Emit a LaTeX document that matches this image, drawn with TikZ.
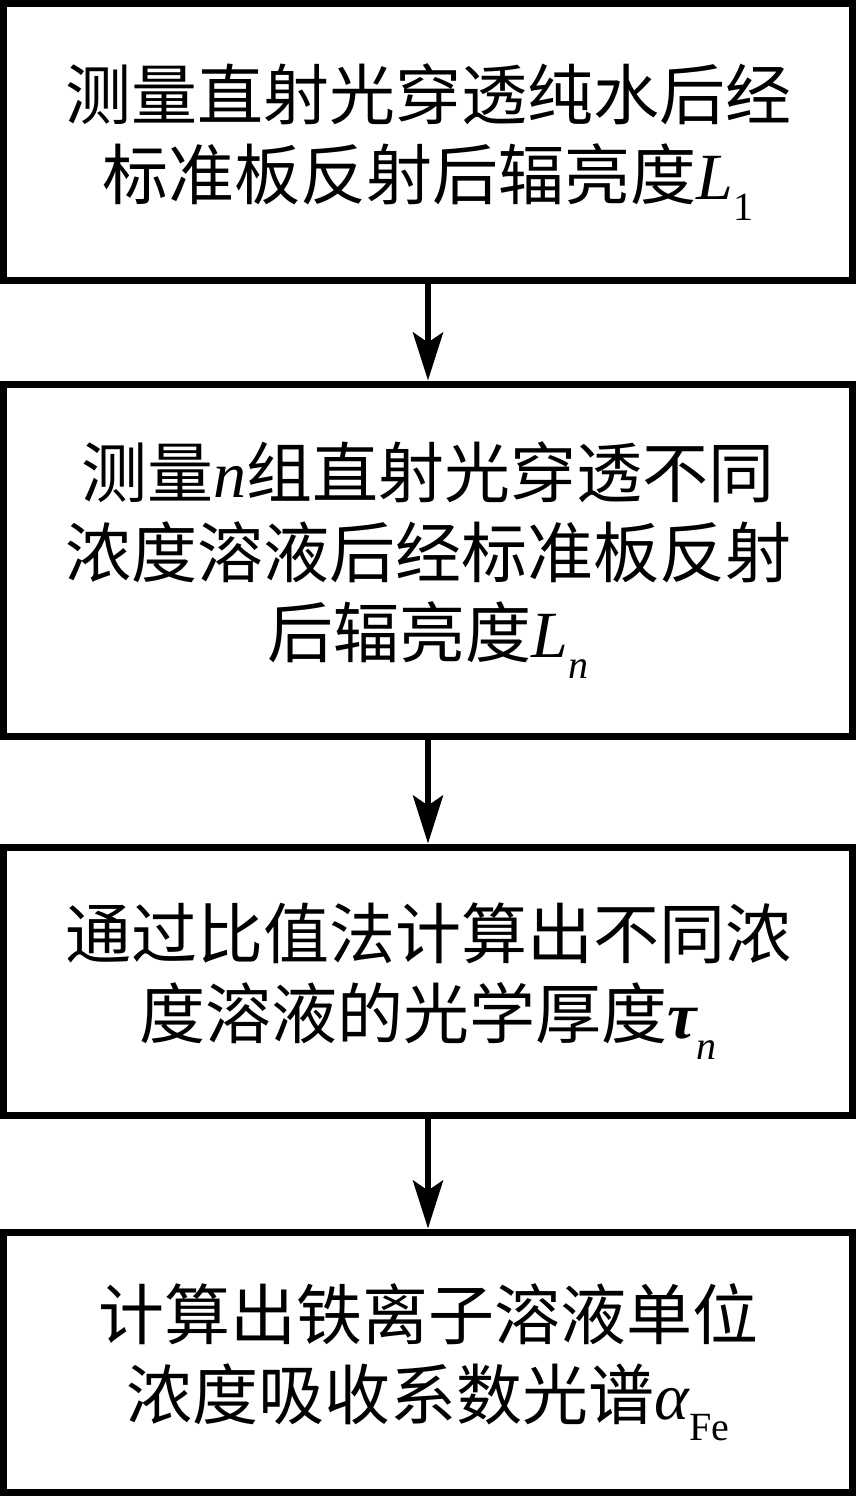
\documentclass[tikz,border=0pt]{standalone}
\usepackage{fontspec}
\setmainfont{Liberation Serif}
\newfontfamily\cjk{Noto Sans CJK SC}
\usetikzlibrary{arrows.meta}
\newcommand\mysub[1]{\raisebox{-0.32em}{\fontsize{40}{40}\selectfont\rmfamily #1}}
\newcommand\mymath[1]{{\rmfamily\itshape #1}}
\tikzset{
  stepbox/.style={draw, line width=7pt, minimum width=849pt, align=center,
    font=\fontsize{66}{80}\selectfont\cjk, inner sep=0pt},
  flow/.style={line width=6pt, -{Stealth[length=48pt,width=30pt,inset=10pt]}}
}
\begin{document}
\begin{tikzpicture}[x=1pt,y=1pt]
\useasboundingbox (0,0) rectangle (856,-1496);
\node[stepbox, minimum height=277pt] (b1) at (428,-142)
  {测量直射光穿透纯水后经\\标准板反射后辐亮度\mymath{L}\mysub{1}};
\node[stepbox, minimum height=352pt] (b2) at (428,-560)
  {测量\mymath{n}组直射光穿透不同\\浓度溶液后经标准板反射\\后辐亮度\mymath{L}\mysub{\itshape n}};
\node[stepbox, minimum height=268pt] (b3) at (428,-981)
  {通过比值法计算出不同浓\\度溶液的光学厚度{\rmfamily\bfseries\itshape τ}\mysub{\itshape n}};
\node[stepbox, minimum height=260.5pt] (b4) at (428,-1362.25)
  {计算出铁离子溶液单位\\浓度吸收系数光谱\mymath{α}\mysub{Fe}};
\draw[flow] (b1) -- (b2);
\draw[flow] (b2) -- (b3);
\draw[flow] (b3) -- (b4);
\end{tikzpicture}
\end{document}
